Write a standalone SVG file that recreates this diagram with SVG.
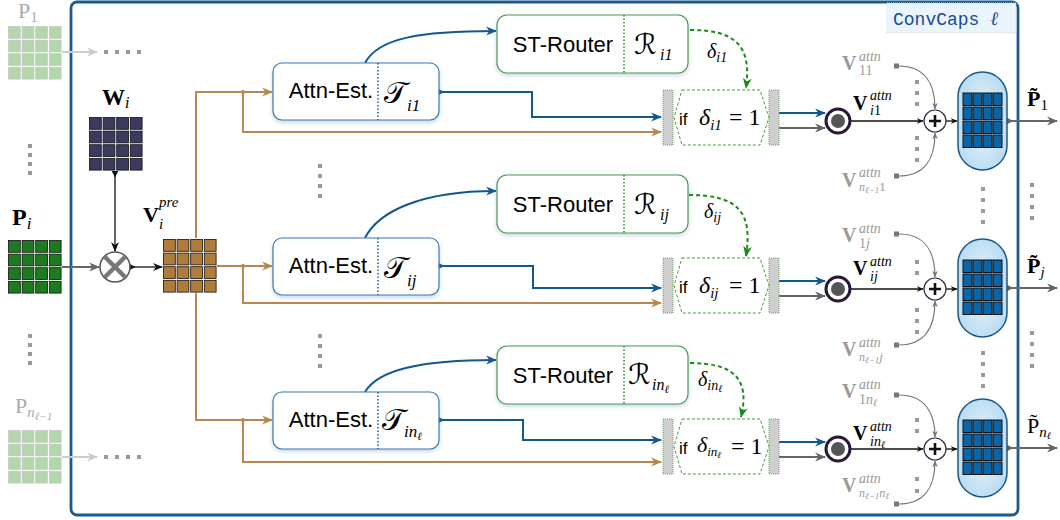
<svg xmlns="http://www.w3.org/2000/svg" width="1060" height="520" viewBox="0 0 1060 520">
<defs>
<style>
.sans{font-family:"Liberation Sans",Arial,sans-serif}
.ser{font-family:"Liberation Serif","DejaVu Serif",serif}
.cal{font-family:"DejaVu Serif","DejaVu Sans","Liberation Serif",serif}
.it{font-style:italic}
.b{font-weight:bold}
.boxa{fill:#fff;stroke:#3b78b0;stroke-width:1.2}
.boxr{fill:#fff;stroke:#4a9a4a;stroke-width:1.2}
.diva{stroke:#1a5a9a;stroke-width:1.5;stroke-dasharray:1.5,2}
.divr{stroke:#2a8a2a;stroke-width:1.5;stroke-dasharray:1.5,2}
.blue{fill:none;stroke:#12578f;stroke-width:2}
.brown{fill:none;stroke:#b8864e;stroke-width:2}
.gray{fill:none;stroke:#666;stroke-width:1.8}
.lgray{fill:none;stroke:#ccc;stroke-width:1.8}
.thin{fill:none;stroke:#777;stroke-width:1.2}
.blk{fill:none;stroke:#111;stroke-width:1.3}
.green{fill:none;stroke:#1a8a1a;stroke-width:2;stroke-dasharray:4,3}
.dot{fill:#999}
.hex{fill:#fff;stroke:#4a9a3a;stroke-width:1;stroke-dasharray:3,2}
.bar{fill:#cfcfcf;stroke:#6aa06a;stroke-width:1;stroke-dasharray:1,1}
.cap{fill:url(#capg);stroke:#1a5a8a;stroke-width:1.5}
.odot{fill:#fff;stroke:#2a1838;stroke-width:3}
.plus{fill:#fff;stroke:#3a2a4a;stroke-width:1.2}
</style>
<filter id="sh" x="-10%" y="-20%" width="120%" height="150%"><feDropShadow dx="0" dy="2" stdDeviation="2" flood-color="#5a8ab8" flood-opacity="0.35"/></filter>
<radialGradient id="capg" cx="50%" cy="50%" r="60%"><stop offset="0" stop-color="#eef7fd"/><stop offset="1" stop-color="#b5d9f0"/></radialGradient>
<g id="grid">
<rect x="0.5" y="0.5" width="11.8" height="11.8"/><rect x="14.1" y="0.5" width="11.8" height="11.8"/><rect x="27.7" y="0.5" width="11.8" height="11.8"/><rect x="41.3" y="0.5" width="11.8" height="11.8"/>
<rect x="0.5" y="14.1" width="11.8" height="11.8"/><rect x="14.1" y="14.1" width="11.8" height="11.8"/><rect x="27.7" y="14.1" width="11.8" height="11.8"/><rect x="41.3" y="14.1" width="11.8" height="11.8"/>
<rect x="0.5" y="27.7" width="11.8" height="11.8"/><rect x="14.1" y="27.7" width="11.8" height="11.8"/><rect x="27.7" y="27.7" width="11.8" height="11.8"/><rect x="41.3" y="27.7" width="11.8" height="11.8"/>
<rect x="0.5" y="41.3" width="11.8" height="11.8"/><rect x="14.1" y="41.3" width="11.8" height="11.8"/><rect x="27.7" y="41.3" width="11.8" height="11.8"/><rect x="41.3" y="41.3" width="11.8" height="11.8"/>
</g>
<g id="cgrid" fill="#0a64a8" stroke="#111" stroke-width="1">
<rect x="0" y="0" width="9" height="12.5"/><rect x="10" y="0" width="9" height="12.5"/><rect x="20" y="0" width="9" height="12.5"/><rect x="30" y="0" width="9" height="12.5"/>
<rect x="0" y="14" width="9" height="12.5"/><rect x="10" y="14" width="9" height="12.5"/><rect x="20" y="14" width="9" height="12.5"/><rect x="30" y="14" width="9" height="12.5"/>
<rect x="0" y="28" width="9" height="12.5"/><rect x="10" y="28" width="9" height="12.5"/><rect x="20" y="28" width="9" height="12.5"/><rect x="30" y="28" width="9" height="12.5"/>
<rect x="0" y="42" width="9" height="12.5"/><rect x="10" y="42" width="9" height="12.5"/><rect x="20" y="42" width="9" height="12.5"/><rect x="30" y="42" width="9" height="12.5"/>
</g>
<marker id="mb" viewBox="0 0 10 10" refX="9" refY="5" markerWidth="11" markerHeight="11" markerUnits="userSpaceOnUse" orient="auto"><path d="M0,1 L10,5 L0,9 L3,5 z" fill="#12578f"/></marker>
<marker id="mbr" viewBox="0 0 10 10" refX="9" refY="5" markerWidth="11" markerHeight="11" markerUnits="userSpaceOnUse" orient="auto"><path d="M0,1 L10,5 L0,9 L3,5 z" fill="#b8864e"/></marker>
<marker id="mg" viewBox="0 0 10 10" refX="9" refY="5" markerWidth="11" markerHeight="11" markerUnits="userSpaceOnUse" orient="auto"><path d="M0,1 L10,5 L0,9 L3,5 z" fill="#666"/></marker>
<marker id="mlg" viewBox="0 0 10 10" refX="9" refY="5" markerWidth="11" markerHeight="11" markerUnits="userSpaceOnUse" orient="auto"><path d="M0,1 L10,5 L0,9 L3,5 z" fill="#ccc"/></marker>
<marker id="mk" viewBox="0 0 10 10" refX="9" refY="5" markerWidth="10" markerHeight="10" markerUnits="userSpaceOnUse" orient="auto"><path d="M0,1 L10,5 L0,9 L3,5 z" fill="#111"/></marker>
<marker id="mks" viewBox="0 0 10 10" refX="9" refY="5" markerWidth="7" markerHeight="7" markerUnits="userSpaceOnUse" orient="auto"><path d="M0,1 L10,5 L0,9 L3,5 z" fill="#111"/></marker>
<marker id="mt" viewBox="0 0 10 10" refX="9" refY="5" markerWidth="7" markerHeight="7" markerUnits="userSpaceOnUse" orient="auto"><path d="M0,1 L10,5 L0,9 L3,5 z" fill="#777"/></marker>
<marker id="mgr" viewBox="0 0 10 10" refX="9" refY="5" markerWidth="11" markerHeight="11" markerUnits="userSpaceOnUse" orient="auto"><path d="M0,1 L10,5 L0,9 L3,5 z" fill="#1a8a1a"/></marker>
<marker id="sb" viewBox="0 0 10 10" refX="2" refY="5" markerWidth="7" markerHeight="7" markerUnits="userSpaceOnUse" orient="auto"><path d="M0,0 L10,5 L0,10 z" fill="#12578f"/></marker>
<marker id="sk" viewBox="0 0 10 10" refX="2" refY="5" markerWidth="7" markerHeight="7" markerUnits="userSpaceOnUse" orient="auto"><path d="M0,0 L10,5 L0,10 z" fill="#111"/></marker>
<marker id="sg" viewBox="0 0 10 10" refX="2" refY="5" markerWidth="8" markerHeight="8" markerUnits="userSpaceOnUse" orient="auto"><path d="M0,0 L10,5 L0,10 z" fill="#666"/></marker>
</defs>

<rect width="1060" height="520" fill="#fff"/>

<g id="frame">
<rect x="71" y="2" width="947" height="513" rx="6" fill="none" stroke="#1c5a8e" stroke-width="2.8"/>
<rect x="887" y="3" width="129" height="30" fill="#eaf4fc" stroke="#d4dae0" stroke-width="1" stroke-dasharray="1,1"/>
<text x="893" y="25" font-family="'Liberation Mono','DejaVu Sans Mono',monospace" font-size="18" fill="#1a4a9a">ConvCaps <tspan class="ser it" font-size="19">ℓ</tspan></text>
</g>

<g id="connectors">
<path class="lgray" d="M62,52 H97" marker-end="url(#mlg)"/>
<path class="gray" d="M62,267 H99" marker-end="url(#mg)"/>
<path class="lgray" d="M62,457 H97" marker-end="url(#mlg)"/>
<path class="blk" stroke-width="1.8" d="M115,172 V251" marker-start="url(#sk)" marker-end="url(#mk)"/>
<path class="blk" stroke-width="1.8" d="M130,267 H162" marker-start="url(#sk)" marker-end="url(#mk)"/>
<path class="brown" d="M196,238 V92 H272" marker-end="url(#mbr)"/>
<path class="brown" d="M217,266 H272" marker-end="url(#mbr)"/>
<path class="brown" d="M196,293 V420 H272" marker-end="url(#mbr)"/>
<path class="brown" d="M243,92 V132 H661" marker-end="url(#mbr)"/>
<path class="brown" d="M243,266 V303 H661" marker-end="url(#mbr)"/>
<path class="brown" d="M243,420 V462 H661" marker-end="url(#mbr)"/>
<circle cx="243" cy="92" r="2" fill="#b8864e"/>
<circle cx="243" cy="266" r="2" fill="#b8864e"/>
<circle cx="243" cy="420" r="2" fill="#b8864e"/>
<path class="blue" d="M365,63 C378,38 420,31 496,31" marker-end="url(#mb)"/>
<path class="blue" d="M365,238 C378,212 420,191 496,191" marker-end="url(#mb)"/>
<path class="blue" d="M365,392 C378,370 420,360 496,360" marker-end="url(#mb)"/>
<path class="blue" d="M439,92 H532 V117 H661" marker-start="url(#sb)" marker-end="url(#mb)"/>
<path class="blue" d="M439,266 H533 V288 H661" marker-start="url(#sb)" marker-end="url(#mb)"/>
<path class="blue" d="M439,420 H523 V440 H661" marker-start="url(#sb)" marker-end="url(#mb)"/>
<path class="green" d="M690,30 C735,30 752,45 746,88" marker-end="url(#mgr)"/>
<path class="green" d="M689,195 C738,195 753,212 746,256" marker-end="url(#mgr)"/>
<path class="green" d="M690,363 C735,363 750,380 741,417" marker-end="url(#mgr)"/>
<path class="blue" d="M779,113 H825" marker-end="url(#mb)"/>
<path class="gray" d="M779,128 H825" marker-end="url(#mg)"/>
<path class="blue" d="M779,281 H825" marker-end="url(#mb)"/>
<path class="gray" d="M779,296 H825" marker-end="url(#mg)"/>
<path class="blue" d="M779,442 H825" marker-end="url(#mb)"/>
<path class="gray" d="M779,457 H825" marker-end="url(#mg)"/>
<path class="blk" d="M851,121 H923" marker-end="url(#mks)"/>
<path class="blk" d="M851,289 H923" marker-end="url(#mks)"/>
<path class="blk" d="M851,449 H923" marker-end="url(#mks)"/>
<path class="blk" d="M946,121 H957" marker-end="url(#mks)"/>
<path class="blk" d="M946,289 H957" marker-end="url(#mks)"/>
<path class="blk" d="M946,449 H957" marker-end="url(#mks)"/>
<path class="thin" d="M899,66 C925,66 935,84 935,109" marker-end="url(#mt)"/>
<path class="thin" d="M899,176 C925,176 935,158 935,133" marker-end="url(#mt)"/>
<path class="thin" d="M899,234 C925,234 935,252 935,277" marker-end="url(#mt)"/>
<path class="thin" d="M899,345 C925,345 935,327 935,301" marker-end="url(#mt)"/>
<path class="thin" d="M899,395 C925,395 935,413 935,437" marker-end="url(#mt)"/>
<path class="thin" d="M899,504 C925,504 935,486 935,461" marker-end="url(#mt)"/>
<rect x="894" y="63.5" width="5" height="5" fill="#777"/>
<rect x="894" y="173.5" width="5" height="5" fill="#777"/>
<rect x="894" y="231.5" width="5" height="5" fill="#777"/>
<rect x="894" y="342.5" width="5" height="5" fill="#777"/>
<rect x="894" y="392.5" width="5" height="5" fill="#777"/>
<rect x="894" y="501.5" width="5" height="5" fill="#777"/>
<path class="gray" d="M1007,121 H1057" marker-start="url(#sg)" marker-end="url(#mg)"/>
<path class="gray" d="M1007,288 H1057" marker-start="url(#sg)" marker-end="url(#mg)"/>
<path class="gray" d="M1007,448 H1057" marker-start="url(#sg)" marker-end="url(#mg)"/>
</g>

<g id="dots" class="dot">
<rect x="104" y="50" width="4" height="4"/><rect x="115" y="50" width="4" height="4"/><rect x="126" y="50" width="4" height="4"/><rect x="137" y="50" width="4" height="4"/>
<rect x="104" y="455" width="4" height="4"/><rect x="115" y="455" width="4" height="4"/><rect x="126" y="455" width="4" height="4"/><rect x="137" y="455" width="4" height="4"/>
<rect x="28" y="144" width="4" height="4"/><rect x="28" y="153" width="4" height="4"/><rect x="28" y="162" width="4" height="4"/><rect x="28" y="171" width="4" height="4"/>
<rect x="28" y="334" width="4" height="4"/><rect x="28" y="343" width="4" height="4"/><rect x="28" y="352" width="4" height="4"/><rect x="28" y="361" width="4" height="4"/>
<rect x="318" y="164" width="4" height="4"/><rect x="318" y="174" width="4" height="4"/><rect x="318" y="184" width="4" height="4"/><rect x="318" y="194" width="4" height="4"/>
<rect x="318" y="334" width="4" height="4"/><rect x="318" y="344" width="4" height="4"/><rect x="318" y="354" width="4" height="4"/><rect x="318" y="364" width="4" height="4"/>
<rect x="915" y="80" width="4" height="4"/><rect x="915" y="91" width="4" height="4"/><rect x="915" y="102" width="4" height="4"/>
<rect x="915" y="136" width="4" height="4"/><rect x="915" y="147" width="4" height="4"/><rect x="915" y="158" width="4" height="4"/>
<rect x="915" y="260" width="4" height="4"/><rect x="915" y="271" width="4" height="4"/>
<rect x="915" y="308" width="4" height="4"/><rect x="915" y="319" width="4" height="4"/><rect x="915" y="330" width="4" height="4"/>
<rect x="915" y="418" width="4" height="4"/><rect x="915" y="429" width="4" height="4"/>
<rect x="915" y="477" width="4" height="4"/><rect x="915" y="489" width="4" height="4"/>
<rect x="981" y="187" width="4" height="4"/><rect x="981" y="198" width="4" height="4"/><rect x="981" y="209" width="4" height="4"/><rect x="981" y="220" width="4" height="4"/>
<rect x="981" y="351" width="4" height="4"/><rect x="981" y="362" width="4" height="4"/><rect x="981" y="373" width="4" height="4"/><rect x="981" y="384" width="4" height="4"/>
<rect x="1030" y="183" width="4" height="4"/><rect x="1030" y="194" width="4" height="4"/><rect x="1030" y="205" width="4" height="4"/><rect x="1030" y="216" width="4" height="4"/>
<rect x="1030" y="331" width="4" height="4"/><rect x="1030" y="342" width="4" height="4"/><rect x="1030" y="353" width="4" height="4"/><rect x="1030" y="364" width="4" height="4"/>
</g>

<g id="P1">
<use href="#grid" x="8" y="26" fill="#b3d6ac" stroke="#c4c4c4" stroke-width="0.7"/>
<text class="ser" x="18" y="18" fill="#aaa" font-size="22">P<tspan font-size="15" dy="4">1</tspan></text>
</g>
<g id="Pi">
<use href="#grid" x="8" y="240" fill="#1e7a1e" stroke="#111" stroke-width="0.8"/>
<text class="ser b" x="12" y="225" font-size="24">P<tspan class="it" font-weight="normal" font-size="17" dy="4">i</tspan></text>
</g>
<g id="Pn">
<use href="#grid" x="8" y="430" fill="#b3d6ac" stroke="#c4c4c4" stroke-width="0.7"/>
<text class="ser" x="15" y="413" fill="#aaa" font-size="22">P<tspan class="it" font-size="15" dy="4">n</tspan><tspan class="it" font-size="11" dy="3">ℓ−1</tspan></text>
</g>
<g id="Wi">
<use href="#grid" x="89" y="117" fill="#3c3a5e" stroke="#111" stroke-width="0.8"/>
<text class="ser b" x="102" y="105" font-size="23">W<tspan class="it" font-weight="normal" font-size="16" dy="3">i</tspan></text>
</g>
<g id="mult">
<circle cx="115" cy="267" r="15" fill="#fff" stroke="#555" stroke-width="1.5"/>
<path d="M105,257 L125,277 M125,257 L105,277" stroke="#777" stroke-width="4.5"/>
</g>
<g id="Vpre">
<use href="#grid" x="163" y="239" fill="#b07c3c" stroke="#111" stroke-width="0.8"/>
<text class="ser b" x="143" y="222" font-size="22">V</text>
<text class="ser it" x="159" y="207" font-size="15">pre</text>
<text class="ser it" x="159" y="229" font-size="15">i</text>
</g>

<g id="attn1">
<rect class="boxa" x="273" y="63" width="166" height="57" rx="9" filter="url(#sh)"/>
<line class="diva" x1="378" y1="63" x2="378" y2="120"/>
<text class="sans" x="331" y="98" font-size="22" text-anchor="middle">Attn-Est.</text>
<text class="cal" x="384" y="103" font-size="30">𝒯</text>
<text class="ser it" x="407" y="111" font-size="17">i1</text>
</g>
<g id="router1">
<rect class="boxr" x="497" y="15" width="191" height="58" rx="10" filter="url(#sh)"/>
<line class="divr" x1="624" y1="15" x2="624" y2="73"/>
<text class="sans" x="563" y="52" font-size="22" text-anchor="middle">ST-Router</text>
<text class="cal" x="634" y="54" font-size="28">ℛ</text>
<text class="ser it" x="660" y="60" font-size="16">i1</text>
<text class="ser it" x="707" y="58" font-size="20">δ<tspan font-size="14" dy="4">i1</tspan></text>
</g>
<g id="gate1">
<rect class="bar" x="663" y="90" width="10" height="55"/>
<rect class="bar" x="769" y="90" width="10" height="55"/>
<polygon class="hex" points="682,90 760,90 769,117.5 760,145 682,145 674,117.5"/>
<text class="sans" x="679" y="125" font-size="17">if</text>
<text class="ser it" x="699" y="125" font-size="24">δ<tspan font-size="15" dy="5">i1</tspan></text>
<text class="ser" x="729" y="125" font-size="24">= 1</text>
</g>
<g id="sum1">
<circle class="odot" cx="838" cy="121" r="12"/><circle cx="838" cy="121" r="7" fill="#555"/>
<circle class="plus" cx="935" cy="121" r="11"/>
<path d="M929,121 H941 M935,115 V127" stroke="#111" stroke-width="2.6"/>
<text class="ser b" x="842" y="70" font-size="20" fill="#9a9a9a">V</text>
<text class="ser it" x="859" y="61" font-size="14" fill="#9a9a9a">attn</text>
<text class="ser" x="859" y="75" font-size="14" fill="#9a9a9a">11</text>
<text class="ser b" x="853" y="110" font-size="20">V</text>
<text class="ser it" x="870" y="100" font-size="14">attn</text>
<text class="ser it" x="870" y="115" font-size="14">i<tspan font-style="normal">1</tspan></text>
<text class="ser b" x="842" y="187" font-size="20" fill="#9a9a9a">V</text>
<text class="ser it" x="859" y="177" font-size="14" fill="#9a9a9a">attn</text>
<text class="ser it" x="859" y="191" font-size="12" fill="#9a9a9a">n<tspan font-size="9" dy="2">ℓ−1</tspan><tspan font-style="normal" font-size="13" dy="-2">1</tspan></text>
</g>
<g id="out1">
<rect class="cap" x="958" y="72" width="49" height="98" rx="24.5"/>
<use href="#cgrid" x="963" y="93"/>
<text class="ser b" x="1027" y="106" font-size="22">P̃<tspan font-weight="normal" font-size="15" dy="4">1</tspan></text>
</g>

<g id="attn2">
<rect class="boxa" x="273" y="238" width="166" height="57" rx="9" filter="url(#sh)"/>
<line class="diva" x1="378" y1="238" x2="378" y2="295"/>
<text class="sans" x="331" y="273" font-size="22" text-anchor="middle">Attn-Est.</text>
<text class="cal" x="384" y="278" font-size="30">𝒯</text>
<text class="ser it" x="407" y="286" font-size="17">ij</text>
</g>
<g id="router2">
<rect class="boxr" x="497" y="175" width="191" height="58" rx="10" filter="url(#sh)"/>
<line class="divr" x1="624" y1="175" x2="624" y2="233"/>
<text class="sans" x="563" y="212" font-size="22" text-anchor="middle">ST-Router</text>
<text class="cal" x="634" y="214" font-size="28">ℛ</text>
<text class="ser it" x="660" y="220" font-size="16">ij</text>
<text class="ser it" x="704" y="218" font-size="20">δ<tspan font-size="14" dy="4">ij</tspan></text>
</g>
<g id="gate2">
<rect class="bar" x="663" y="258" width="10" height="55"/>
<rect class="bar" x="769" y="258" width="10" height="55"/>
<polygon class="hex" points="682,258 760,258 769,285.5 760,313 682,313 674,285.5"/>
<text class="sans" x="679" y="293" font-size="17">if</text>
<text class="ser it" x="699" y="293" font-size="24">δ<tspan font-size="15" dy="5">ij</tspan></text>
<text class="ser" x="729" y="293" font-size="24">= 1</text>
</g>
<g id="sum2">
<circle class="odot" cx="838" cy="289" r="12"/><circle cx="838" cy="289" r="7" fill="#555"/>
<circle class="plus" cx="935" cy="289" r="11"/>
<path d="M929,289 H941 M935,283 V295" stroke="#111" stroke-width="2.6"/>
<text class="ser b" x="842" y="242" font-size="20" fill="#9a9a9a">V</text>
<text class="ser it" x="859" y="233" font-size="14" fill="#9a9a9a">attn</text>
<text class="ser" x="859" y="248" font-size="14" fill="#9a9a9a">1<tspan font-style="italic">j</tspan></text>
<text class="ser b" x="853" y="275" font-size="20">V</text>
<text class="ser it" x="870" y="266" font-size="14">attn</text>
<text class="ser it" x="870" y="281" font-size="14">ij</text>
<text class="ser b" x="842" y="356" font-size="20" fill="#9a9a9a">V</text>
<text class="ser it" x="859" y="347" font-size="14" fill="#9a9a9a">attn</text>
<text class="ser it" x="859" y="361" font-size="12" fill="#9a9a9a">n<tspan font-size="9" dy="2">ℓ−1</tspan><tspan font-size="13" dy="-2">j</tspan></text>
</g>
<g id="out2">
<rect class="cap" x="958" y="239" width="49" height="98" rx="24.5"/>
<use href="#cgrid" x="963" y="260"/>
<text class="ser b" x="1027" y="273" font-size="22">P̃<tspan class="it" font-weight="normal" font-size="15" dy="4">j</tspan></text>
</g>

<g id="attn3">
<rect class="boxa" x="273" y="392" width="166" height="57" rx="9" filter="url(#sh)"/>
<line class="diva" x1="378" y1="392" x2="378" y2="449"/>
<text class="sans" x="331" y="427" font-size="22" text-anchor="middle">Attn-Est.</text>
<text class="cal" x="382" y="430" font-size="30">𝒯</text>
<text class="ser it" x="404" y="437" font-size="17">in<tspan font-size="11" dy="3">ℓ</tspan></text>
</g>
<g id="router3">
<rect class="boxr" x="497" y="346" width="191" height="58" rx="10" filter="url(#sh)"/>
<line class="divr" x1="624" y1="346" x2="624" y2="404"/>
<text class="sans" x="563" y="383" font-size="22" text-anchor="middle">ST-Router</text>
<text class="cal" x="628" y="384" font-size="28">ℛ</text>
<text class="ser it" x="652" y="390" font-size="16">in<tspan font-size="11" dy="3">ℓ</tspan></text>
<text class="ser it" x="698" y="386" font-size="20">δ<tspan font-size="14" dy="4">in</tspan><tspan font-size="10" dy="2">ℓ</tspan></text>
</g>
<g id="gate3">
<rect class="bar" x="663" y="419" width="10" height="55"/>
<rect class="bar" x="769" y="419" width="10" height="55"/>
<polygon class="hex" points="682,419 760,419 769,446.5 760,474 682,474 674,446.5"/>
<text class="sans" x="679" y="454" font-size="17">if</text>
<text class="ser it" x="697" y="452" font-size="22">δ<tspan font-size="13" dy="4">in</tspan><tspan font-size="9" dy="2">ℓ</tspan></text>
<text class="ser" x="731" y="454" font-size="24">= 1</text>
</g>
<g id="sum3">
<circle class="odot" cx="838" cy="449" r="12"/><circle cx="838" cy="449" r="7" fill="#555"/>
<circle class="plus" cx="935" cy="449" r="11"/>
<path d="M929,449 H941 M935,443 V455" stroke="#111" stroke-width="2.6"/>
<text class="ser b" x="842" y="398" font-size="20" fill="#9a9a9a">V</text>
<text class="ser it" x="859" y="389" font-size="14" fill="#9a9a9a">attn</text>
<text class="ser" x="859" y="404" font-size="14" fill="#9a9a9a">1<tspan font-style="italic">n</tspan><tspan class="it" font-size="10" dy="2">ℓ</tspan></text>
<text class="ser b" x="853" y="440" font-size="20">V</text>
<text class="ser it" x="870" y="431" font-size="14">attn</text>
<text class="ser it" x="870" y="446" font-size="14">in<tspan font-size="10" dy="2">ℓ</tspan></text>
<text class="ser b" x="842" y="492" font-size="20" fill="#9a9a9a">V</text>
<text class="ser it" x="859" y="483" font-size="14" fill="#9a9a9a">attn</text>
<text class="ser it" x="859" y="497" font-size="12" fill="#9a9a9a">n<tspan font-size="9" dy="2">ℓ−1</tspan><tspan font-size="12" dy="-2">n</tspan><tspan font-size="9" dy="2">ℓ</tspan></text>
</g>
<g id="out3">
<rect class="cap" x="958" y="399" width="49" height="98" rx="24.5"/>
<use href="#cgrid" x="963" y="420"/>
<text class="ser" x="1027" y="433" font-size="22">P̃<tspan class="it" font-size="15" dy="4">n</tspan><tspan class="it" font-size="10" dy="2">ℓ</tspan></text>
</g>
</svg>
